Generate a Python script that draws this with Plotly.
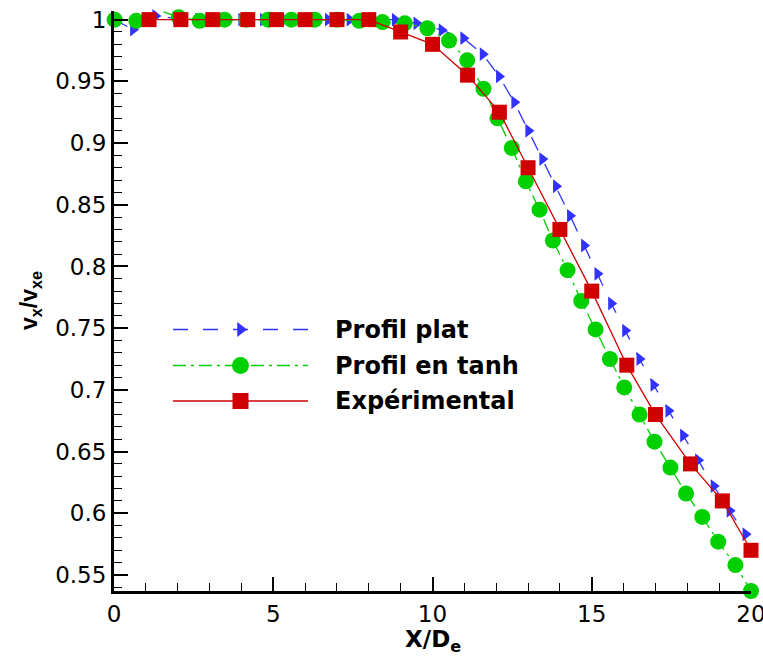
import plotly.graph_objects as go
import numpy as np

# ---- data ----
x_plat = [0.0, 0.6, 1.3, 1.96, 2.64, 3.32, 4.0, 4.68, 5.36, 6.04, 6.72, 7.40, 8.14, 8.82, 9.50,
          10.29, 10.97, 11.58, 12.09, 12.57, 13.01, 13.45, 13.88, 14.32, 14.76, 15.18, 15.61,
          16.05, 16.50, 16.94, 17.41, 17.87, 18.34, 18.83, 19.33, 19.83]
y_plat = [1.0, 0.992, 1.003, 1.001, 1.0, 1.0, 1.0, 1.0, 1.0, 1.0, 1.0, 1.0, 1.0, 1.0, 0.997,
          0.9915, 0.985, 0.972, 0.954, 0.933, 0.910, 0.887, 0.865, 0.841, 0.817, 0.794, 0.770,
          0.748, 0.725, 0.704, 0.683, 0.663, 0.643, 0.622, 0.602, 0.583]

x_tanh = [0.02, 0.70, 1.35, 2.03, 2.69, 3.47, 4.15, 4.84, 5.57, 6.30, 7.00, 7.70, 8.43, 9.13, 9.84,
          10.52, 11.09, 11.60, 12.04, 12.49, 12.93, 13.36, 13.78, 14.24, 14.67, 15.12, 15.57,
          16.02, 16.50, 16.97, 17.47, 17.96, 18.47, 18.97, 19.51, 20.0]
y_tanh = [1.0, 0.999, 1.008, 1.002, 0.999, 1.0, 1.0, 1.0, 1.0, 1.0, 1.0, 0.999, 0.998, 0.997, 0.993,
          0.983, 0.967, 0.944, 0.920, 0.896, 0.869, 0.846, 0.821, 0.797, 0.772, 0.749, 0.725,
          0.702, 0.680, 0.658, 0.637, 0.616, 0.597, 0.577, 0.558, 0.537]

x_exp = [1.1, 2.1, 3.1, 4.2, 5.1, 6.0, 7.0, 8.0, 9.0, 10.0, 11.1, 12.1, 13.0, 14.0, 15.0,
         16.1, 17.0, 18.1, 19.1, 20.0]
y_exp = [1.0, 1.0, 1.0, 1.0, 1.0, 1.0, 1.0, 1.0, 0.99, 0.98, 0.955, 0.925, 0.88, 0.83, 0.78,
         0.72, 0.68, 0.64, 0.61, 0.57]

series_names = ["Profil plat", "Profil en tanh", "Expérimental"]

x_tickvals = [0, 5, 10, 15, 20]
x_ticktext = ["0", "5", "10", "15", "20"]
y_tickvals = [0.55, 0.6, 0.65, 0.7, 0.75, 0.8, 0.85, 0.9, 0.95, 1.0]
y_ticktext = ["0.55", "0.6", "0.65", "0.7", "0.75", "0.8", "0.85", "0.9", "0.95", "1"]

# ---- styles / layout geometry (screen pixels) ----
BLUE = "#3232ff"
GREEN = "#00d000"
RED = "#d00000"
W, H = 763, 667
PX0, PX1, PY0, PY1 = 114, 751, 11, 591   # plot area on screen
ML, MT, MR, MB = PX0, PY0, W - PX1, H - PY1
PW, PH = PX1 - PX0, PY1 - PY0

styles = [
    dict(color=BLUE, dash="15px,15px", symbol="triangle-right", size=12),
    dict(color=GREEN, dash="13px,5px,3px,5px", symbol="circle", size=16),
    dict(color=RED, dash="solid", symbol="square", size=15),
]

fig = go.Figure()
for (xs, ys), st, name in zip([(x_plat, y_plat), (x_tanh, y_tanh), (x_exp, y_exp)], styles, series_names):
    fig.add_trace(go.Scatter(
        x=xs, y=ys, mode="lines+markers", name=name, showlegend=False, cliponaxis=False,
        line=dict(color=st["color"], width=1.3, dash=st["dash"]),
        marker=dict(color=st["color"], symbol=st["symbol"], size=st["size"], line=dict(width=0)),
    ))

# ---- custom legend on an overlay axis measured in screen pixels ----
LEG_X0, LEG_X1, LEG_XM, LEG_XT = 173, 308, 240.5, 333
LEG_Y = [329.5, 365.5, 401]
for st, name, ly in zip(styles, series_names, LEG_Y):
    fig.add_trace(go.Scatter(
        x=[LEG_X0, LEG_X1], y=[ly, ly], mode="lines", xaxis="x2", yaxis="y2",
        showlegend=False, hoverinfo="skip",
        line=dict(color=st["color"], width=1.3, dash=st["dash"]),
    ))
    fig.add_trace(go.Scatter(
        x=[LEG_XM], y=[ly], mode="markers", xaxis="x2", yaxis="y2",
        showlegend=False, hoverinfo="skip",
        marker=dict(color=st["color"], symbol=st["symbol"], size=st["size"] + 1, line=dict(width=0)),
    ))
    fig.add_annotation(
        x=LEG_XT, y=ly, xref="x2", yref="y2", text="<b>%s</b>" % name, showarrow=False,
        xanchor="left", yanchor="middle",
        font=dict(family="DejaVu Sans", size=24, color="black"),
    )

# axis titles (paper coords are relative to the plot area)
XT_Y, YT_X = 641, 30
fig.add_annotation(
    x=0.5, y=(PY1 - XT_Y) / PH, xref="paper", yref="paper", yanchor="middle", xanchor="center",
    text="<b>X/D<sub>e</sub></b>", showarrow=False,
    font=dict(family="DejaVu Sans", size=23, color="black"),
)
fig.add_annotation(
    x=(YT_X - PX0) / PW, y=0.5, xref="paper", yref="paper", yanchor="middle", xanchor="center",
    text="<b>v<sub>x</sub>/v<sub>xe</sub></b>", showarrow=False, textangle=-90,
    font=dict(family="Liberation Sans", size=23, color="black"),
)

tickfont = dict(family="DejaVu Sans", size=23, color="black")
fig.update_layout(
    width=W, height=H,
    margin=dict(l=ML, r=MR, t=MT, b=MB, autoexpand=False),
    paper_bgcolor="white", plot_bgcolor="white",
    xaxis=dict(
        range=[0, 20], showgrid=False, zeroline=False, showline=True, linecolor="black", linewidth=3,
        ticks="inside", ticklen=14, tickwidth=2, tickcolor="black", automargin=False,
        ticklabeloverflow="allow",
        tickmode="array", tickvals=x_tickvals, ticktext=x_ticktext, tickfont=tickfont,
        minor=dict(ticks="inside", ticklen=8, tickwidth=1, tickcolor="black",
                   tickvals=list(np.arange(1, 20, 1))),
    ),
    yaxis=dict(
        range=[0.537, 1.007], showgrid=False, zeroline=False, showline=True, linecolor="black", linewidth=3,
        ticks="inside", ticklen=14, tickwidth=2, tickcolor="black", automargin=False,
        ticklabeloverflow="allow",
        tickmode="array", tickvals=y_tickvals, ticktext=y_ticktext, tickfont=tickfont,
        minor=dict(ticks="inside", ticklen=8, tickwidth=1, tickcolor="black",
                   tickvals=[round(v, 2) for v in np.arange(0.54, 1.005, 0.01)]),
    ),
    xaxis2=dict(overlaying="x", range=[PX0, PX1], visible=False, fixedrange=True),
    yaxis2=dict(overlaying="y", range=[PY1, PY0], visible=False, fixedrange=True),
)

fig.write_html("out.html", config={"displayModeBar": False},
               post_script="document.body.style.margin='0px';document.body.style.overflow='hidden';")
